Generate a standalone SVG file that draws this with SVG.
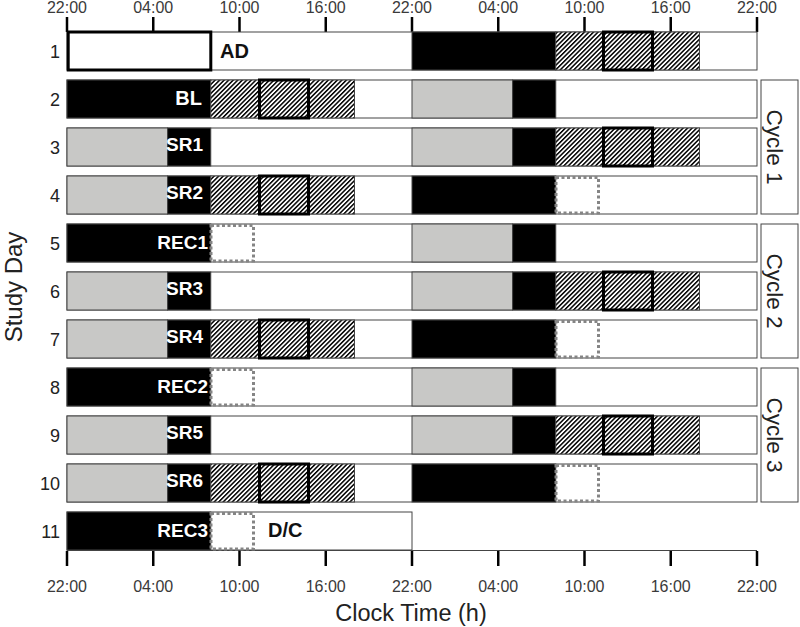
<svg xmlns="http://www.w3.org/2000/svg" width="800" height="627" viewBox="0 0 800 627">
<style>
text{font-family:"Liberation Sans",Arial,sans-serif}
.tick{font-size:16px;fill:#3a3a3a;text-anchor:middle}
.num{font-size:18px;fill:#222;text-anchor:end}
.title{font-size:23px;fill:#222;text-anchor:middle}
.lw{font-size:19px;font-weight:bold;fill:#fff;text-anchor:end}
.lb{font-size:20px;font-weight:bold;fill:#111}
.bg{fill:#fff;stroke:#444;stroke-width:1}
.blk{fill:#000;stroke:#444;stroke-width:1}
.gry{fill:#c8c8c6;stroke:#444;stroke-width:1}
.hat{fill:url(#hatch);stroke:#444;stroke-width:1}
.thick{fill:none;stroke:#000;stroke-width:3}
.dot{fill:none;stroke:#858585;stroke-width:3;stroke-dasharray:3 2.5}
.tk{stroke:#000;stroke-width:2.5}
.cyc{fill:#fff;stroke:#444;stroke-width:1}
</style>
<defs>
<pattern id="hatch" patternUnits="userSpaceOnUse" width="3.2" height="3.2" patternTransform="rotate(45)">
<rect width="3.2" height="3.2" fill="#fff"/>
<rect width="1.5" height="3.2" fill="#000"/>
</pattern>
</defs>
<rect width="800" height="627" fill="#fff"/>

<g id="axes">
<g class="tk">
<line x1="67" y1="17" x2="67" y2="32"/><line x1="153.25" y1="17" x2="153.25" y2="32"/><line x1="239.5" y1="17" x2="239.5" y2="32"/><line x1="325.75" y1="17" x2="325.75" y2="32"/><line x1="412" y1="17" x2="412" y2="32"/><line x1="498.25" y1="17" x2="498.25" y2="32"/><line x1="584.5" y1="17" x2="584.5" y2="32"/><line x1="670.75" y1="17" x2="670.75" y2="32"/><line x1="757" y1="17" x2="757" y2="32"/>
<line x1="67" y1="551" x2="67" y2="566"/><line x1="153.25" y1="551" x2="153.25" y2="566"/><line x1="239.5" y1="551" x2="239.5" y2="566"/><line x1="325.75" y1="551" x2="325.75" y2="566"/><line x1="412" y1="551" x2="412" y2="566"/><line x1="498.25" y1="551" x2="498.25" y2="566"/><line x1="584.5" y1="551" x2="584.5" y2="566"/><line x1="670.75" y1="551" x2="670.75" y2="566"/><line x1="757" y1="551" x2="757" y2="566"/>
</g>
<line x1="67" y1="550.5" x2="757" y2="550.5" stroke="#444" stroke-width="1"/>
<g class="tick">
<text x="67" y="13">22:00</text><text x="153.25" y="13">04:00</text><text x="239.5" y="13">10:00</text><text x="325.75" y="13">16:00</text><text x="412" y="13">22:00</text><text x="498.25" y="13">04:00</text><text x="584.5" y="13">10:00</text><text x="670.75" y="13">16:00</text><text x="757" y="13">22:00</text>
<text x="67" y="592">22:00</text><text x="153.25" y="592">04:00</text><text x="239.5" y="592">10:00</text><text x="325.75" y="592">16:00</text><text x="412" y="592">22:00</text><text x="498.25" y="592">04:00</text><text x="584.5" y="592">10:00</text><text x="670.75" y="592">16:00</text><text x="757" y="592">22:00</text>
</g>
<text class="title" x="411" y="621" style="font-size:23.5px">Clock Time (h)</text>
<text class="title" transform="translate(22,287) rotate(-90)" style="font-size:24px">Study Day</text>
<g class="num">
<text x="60" y="57.5">1</text><text x="60" y="105.5">2</text><text x="60" y="153.5">3</text><text x="60" y="201.5">4</text><text x="60" y="249.5">5</text><text x="60" y="297.5">6</text><text x="60" y="345.5">7</text><text x="60" y="393.5">8</text><text x="60" y="441.5">9</text><text x="60" y="489.5">10</text><text x="60" y="537.5">11</text>
</g>
</g>

<g id="row1">
<rect class="bg" x="67" y="32" width="690" height="38"/>
<rect class="blk" x="412" y="32" width="143.75" height="38"/>
<rect class="hat" x="555.75" y="32" width="143.75" height="38"/>
<rect class="thick" x="68.2" y="32" width="142.6" height="38"/>
<rect class="thick" x="603.5" y="32" width="49" height="38"/>
<text class="lb" x="220" y="58">AD</text>
</g>

<g id="row2">
<rect class="bg" x="67" y="80" width="690" height="38"/>
<rect class="blk" x="67" y="80" width="143.75" height="38"/>
<rect class="hat" x="210.75" y="80" width="143.75" height="38"/>
<rect class="thick" x="259.5" y="80" width="49" height="38"/>
<rect class="gry" x="412" y="80" width="100.6" height="38"/>
<rect class="blk" x="512.6" y="80" width="43.15" height="38"/>
<text class="lw" x="202" y="105" style="font-size:20px">BL</text>
</g>

<g id="row3">
<rect class="bg" x="67" y="128" width="690" height="38"/>
<rect class="gry" x="67" y="128" width="100.6" height="38"/>
<rect class="blk" x="167.6" y="128" width="43.15" height="38"/>
<rect class="gry" x="412" y="128" width="100.6" height="38"/>
<rect class="blk" x="512.6" y="128" width="43.15" height="38"/>
<rect class="hat" x="555.75" y="128" width="143.75" height="38"/>
<rect class="thick" x="603.5" y="128" width="49" height="38"/>
<text class="lw" x="203" y="150.5">SR1</text>
</g>

<g id="row4">
<rect class="bg" x="67" y="176" width="690" height="38"/>
<rect class="gry" x="67" y="176" width="100.6" height="38"/>
<rect class="blk" x="167.6" y="176" width="43.15" height="38"/>
<rect class="hat" x="210.75" y="176" width="143.75" height="38"/>
<rect class="thick" x="259.5" y="176" width="49" height="38"/>
<rect class="blk" x="412" y="176" width="143.75" height="38"/>
<rect class="dot" x="556" y="177.5" width="42.5" height="35.5"/>
<text class="lw" x="203" y="198.5">SR2</text>
</g>

<g id="row5">
<rect class="bg" x="67" y="224" width="690" height="38"/>
<rect class="blk" x="67" y="224" width="143.75" height="38"/>
<rect class="dot" x="211" y="225.5" width="42.5" height="35.5"/>
<rect class="gry" x="412" y="224" width="100.6" height="38"/>
<rect class="blk" x="512.6" y="224" width="43.15" height="38"/>
<text class="lw" x="208" y="248.5">REC1</text>
</g>

<g id="row6">
<rect class="bg" x="67" y="272" width="690" height="38"/>
<rect class="gry" x="67" y="272" width="100.6" height="38"/>
<rect class="blk" x="167.6" y="272" width="43.15" height="38"/>
<rect class="gry" x="412" y="272" width="100.6" height="38"/>
<rect class="blk" x="512.6" y="272" width="43.15" height="38"/>
<rect class="hat" x="555.75" y="272" width="143.75" height="38"/>
<rect class="thick" x="603.5" y="272" width="49" height="38"/>
<text class="lw" x="203" y="294.5">SR3</text>
</g>

<g id="row7">
<rect class="bg" x="67" y="320" width="690" height="38"/>
<rect class="gry" x="67" y="320" width="100.6" height="38"/>
<rect class="blk" x="167.6" y="320" width="43.15" height="38"/>
<rect class="hat" x="210.75" y="320" width="143.75" height="38"/>
<rect class="thick" x="259.5" y="320" width="49" height="38"/>
<rect class="blk" x="412" y="320" width="143.75" height="38"/>
<rect class="dot" x="556" y="321.5" width="42.5" height="35.5"/>
<text class="lw" x="203" y="342.5">SR4</text>
</g>

<g id="row8">
<rect class="bg" x="67" y="368" width="690" height="38"/>
<rect class="blk" x="67" y="368" width="143.75" height="38"/>
<rect class="dot" x="211" y="369.5" width="42.5" height="35.5"/>
<rect class="gry" x="412" y="368" width="100.6" height="38"/>
<rect class="blk" x="512.6" y="368" width="43.15" height="38"/>
<text class="lw" x="208" y="392.5">REC2</text>
</g>

<g id="row9">
<rect class="bg" x="67" y="416" width="690" height="38"/>
<rect class="gry" x="67" y="416" width="100.6" height="38"/>
<rect class="blk" x="167.6" y="416" width="43.15" height="38"/>
<rect class="gry" x="412" y="416" width="100.6" height="38"/>
<rect class="blk" x="512.6" y="416" width="43.15" height="38"/>
<rect class="hat" x="555.75" y="416" width="143.75" height="38"/>
<rect class="thick" x="603.5" y="416" width="49" height="38"/>
<text class="lw" x="203" y="438.5">SR5</text>
</g>

<g id="row10">
<rect class="bg" x="67" y="464" width="690" height="38"/>
<rect class="gry" x="67" y="464" width="100.6" height="38"/>
<rect class="blk" x="167.6" y="464" width="43.15" height="38"/>
<rect class="hat" x="210.75" y="464" width="143.75" height="38"/>
<rect class="thick" x="259.5" y="464" width="49" height="38"/>
<rect class="blk" x="412" y="464" width="143.75" height="38"/>
<rect class="dot" x="556" y="465.5" width="42.5" height="35.5"/>
<text class="lw" x="203" y="486.5">SR6</text>
</g>

<g id="row11">
<rect class="bg" x="67" y="512" width="345" height="38"/>
<rect class="blk" x="67" y="512" width="143.75" height="38"/>
<rect class="dot" x="211" y="513.5" width="42.5" height="35.5"/>
<text class="lw" x="208" y="536.5">REC3</text>
<text class="lb" x="268" y="537">D/C</text>
</g>

<g id="cycle1">
<rect class="cyc" x="761" y="80" width="37" height="134"/>
<text class="title" transform="translate(767,147) rotate(90)" style="font-size:22.5px">Cycle 1</text>
</g>
<g id="cycle2">
<rect class="cyc" x="761" y="224" width="37" height="134"/>
<text class="title" transform="translate(767,291) rotate(90)" style="font-size:22.5px">Cycle 2</text>
</g>
<g id="cycle3">
<rect class="cyc" x="761" y="368" width="37" height="134"/>
<text class="title" transform="translate(767,435) rotate(90)" style="font-size:22.5px">Cycle 3</text>
</g>
</svg>
